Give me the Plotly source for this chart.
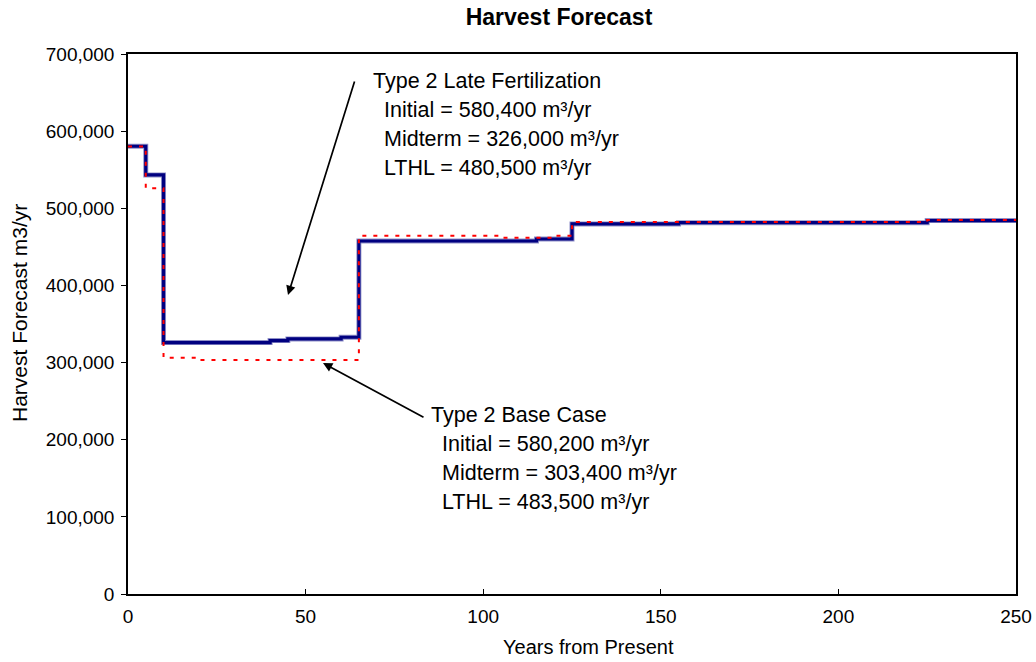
import plotly.graph_objects as go

# Type 2 Late Fertilization (step values, year where each step starts)
fert_years = [0, 5, 10, 40, 45, 60, 65, 115, 125, 155, 225, 250]
fert_vals = [580400, 543200, 325900, 328500, 330600, 332800, 457600, 460200, 479700, 481400, 484100, 484100]

# Type 2 Base Case
base_years = [0, 5, 10, 20, 65, 105, 120, 125, 225, 250]
base_vals = [580200, 526000, 306300, 303400, 464300, 461900, 464500, 482200, 484800, 484800]

x_ticks = [0, 50, 100, 150, 200, 250]
y_ticks = [0, 100000, 200000, 300000, 400000, 500000, 600000, 700000]

fert_label = ["Type 2 Late Fertilization", "Initial = 580,400 m³/yr",
              "Midterm = 326,000 m³/yr", "LTHL = 480,500 m³/yr"]
base_label = ["Type 2 Base Case", "Initial = 580,200 m³/yr",
              "Midterm = 303,400 m³/yr", "LTHL = 483,500 m³/yr"]

FONT = "Liberation Sans, Arial, sans-serif"
L, R, T, B = 128, 1016, 54, 594
W, H = 1036, 662


def px_x(p):
    return (p - L) / (R - L) * 250


def px_y(p):
    return (B - p) / (B - T) * 700000


def paper_x(p):
    return (p - L) / (R - L)


def paper_y(p):
    return (B - p) / (B - T)


fig = go.Figure()
fig.add_trace(go.Scatter(x=fert_years, y=fert_vals, mode="lines", line_shape="hv",
                         line=dict(color="#9090c8", width=5), hoverinfo="skip", showlegend=False))
fig.add_trace(go.Scatter(x=fert_years, y=fert_vals, mode="lines", line_shape="hv",
                         line=dict(color="#000080", width=3.2), name="Type 2 Late Fertilization",
                         showlegend=False))
fig.add_trace(go.Scatter(x=base_years, y=base_vals, mode="lines", line_shape="hv",
                         line=dict(color="#ff0000", width=2, dash="4px,7px"), name="Type 2 Base Case",
                         showlegend=False))

annots = []
# arrows
annots.append(dict(x=px_x(288), y=px_y(295), ax=px_x(355), ay=px_y(80), xref="x", yref="y",
                   axref="x", ayref="y", showarrow=True, arrowhead=2, arrowsize=1.1, arrowwidth=1.7,
                   arrowcolor="black", text=""))
annots.append(dict(x=px_x(323), y=px_y(363), ax=px_x(425), ay=px_y(418), xref="x", yref="y",
                   axref="x", ayref="y", showarrow=True, arrowhead=2, arrowsize=1.1, arrowwidth=1.7,
                   arrowcolor="black", text=""))


def add_block(lines, x0_px, y0_px):
    for i, t in enumerate(lines):
        indent = 0 if i == 0 else 11
        annots.append(dict(x=px_x(x0_px), y=px_y(y0_px + 29 * i), xref="x", yref="y",
                           xanchor="left", yanchor="middle", xshift=indent, showarrow=False,
                           text=t, font=dict(family=FONT, size=21.5, color="black")))


add_block(fert_label, 371, 81)
add_block(base_label, 429, 415)

# axis titles
annots.append(dict(x=paper_x(588), y=paper_y(647), xref="paper", yref="paper", xanchor="center",
                   yanchor="middle", showarrow=False, text="Years from Present",
                   font=dict(family=FONT, size=20, color="black")))
annots.append(dict(x=paper_x(19), y=paper_y(313), xref="paper", yref="paper", xanchor="center",
                   yanchor="middle", showarrow=False, text="Harvest Forecast m3/yr", textangle=-90,
                   font=dict(family=FONT, size=21, color="black")))

fig.update_layout(
    width=W, height=H,
    margin=dict(l=L, r=W - R, t=T, b=H - B),
    paper_bgcolor="white", plot_bgcolor="white",
    font=dict(family=FONT, size=19, color="black"),
    title=dict(text="<b>Harvest Forecast</b>", x=559 / W, xanchor="center", xref="container",
               y=1 - 17 / H, yanchor="middle", yref="container", automargin=False,
               font=dict(family=FONT, size=23, color="black")),
    xaxis=dict(range=[0, 250], tickvals=x_ticks, ticks="inside", ticklen=5, tickcolor="black",
               showline=True, linecolor="black", linewidth=1.5, mirror=True, showgrid=False,
               zeroline=False, tickfont=dict(size=19), automargin=False, ticklabelstandoff=4),
    yaxis=dict(range=[0, 700000], tickvals=y_ticks, tickformat=",", ticks="outside", ticklen=5,
               tickcolor="black", showline=True, linecolor="black", linewidth=1.5, mirror=True,
               showgrid=False, zeroline=False, tickfont=dict(size=19), automargin=False,
               ticklabelstandoff=3),
    annotations=annots,
)

fig.write_html("out.html", config={"displayModeBar": False},
               post_script="document.body.style.margin='0';document.body.style.padding='0';")
